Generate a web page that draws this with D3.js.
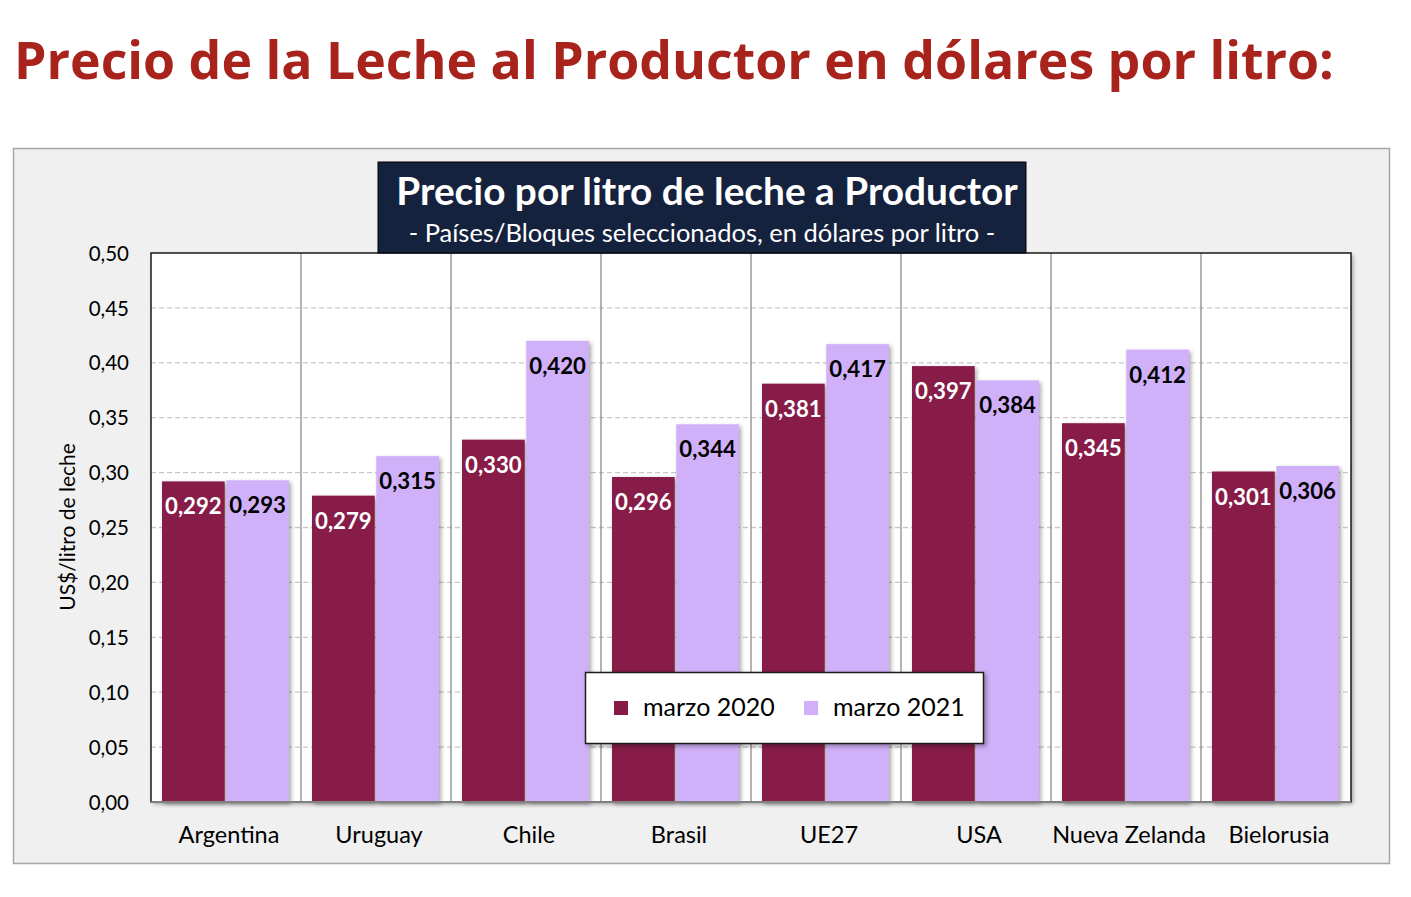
<!DOCTYPE html>
<html><head><meta charset="utf-8">
<script src="https://cdn.jsdelivr.net/npm/d3@7"></script>
<style>body{margin:0;background:#fff;}svg{display:block;}</style>
</head><body>
<script>
const categories = ["Argentina","Uruguay","Chile","Brasil","UE27","USA","Nueva Zelanda","Bielorusia"];
const series = ["marzo 2020","marzo 2021"];
const values2020 = [0.292,0.279,0.330,0.296,0.381,0.397,0.345,0.301];
const values2021 = [0.293,0.315,0.420,0.344,0.417,0.384,0.412,0.306];
const yTicks = [0,0.05,0.10,0.15,0.20,0.25,0.30,0.35,0.40,0.45,0.50];
const colors = ["#861a47","#d0b0f8"];

const W=1411,H=897;
const svg=d3.select("body").append("svg").attr("width",W).attr("height",H);
const defs=svg.append("defs");
const f=defs.append("filter").attr("id","sh").attr("x","-20%").attr("y","-20%").attr("width","150%").attr("height","150%");
f.append("feDropShadow").attr("dx",2).attr("dy",2).attr("stdDeviation",2).attr("flood-color","#000").attr("flood-opacity",0.35);

svg.append("text").attr("x",14).attr("y",79).text("Precio de la Leche al Productor en dólares por litro:")
  .attr("font-family","Open Sans").attr("font-weight",700).attr("font-size",51.8).attr("fill","#a8231c");

svg.append("rect").attr("x",13.5).attr("y",148.5).attr("width",1376).attr("height",715)
  .attr("fill","#f0f0f0").attr("stroke","#a6a6a6").attr("stroke-width",1.5);

const L=151,R=1351,T=253,B=802;
const x=d3.scaleBand().domain(categories).range([L,R]);
const y=d3.scaleLinear().domain([0,0.5]).range([B,T]);

svg.append("rect").attr("x",L).attr("y",T).attr("width",R-L).attr("height",B-T).attr("fill","#fff").attr("filter","url(#sh)");

// gridlines
svg.append("g").selectAll("line").data(yTicks.filter(d=>d>0&&d<0.5)).join("line")
  .attr("x1",L).attr("x2",R).attr("y1",d=>y(d)).attr("y2",d=>y(d))
  .attr("stroke","#c8c8c8").attr("stroke-width",1.3).attr("stroke-dasharray","5,3");
// category separators
svg.append("g").selectAll("line").data(categories.slice(1)).join("line")
  .attr("x1",d=>x(d)).attr("x2",d=>x(d)).attr("y1",T).attr("y2",B)
  .attr("stroke","#808080").attr("stroke-width",1.2);

const inner=d3.scaleBand().domain(series).range([11,138]).paddingInner(0.024);
const data=[];
categories.forEach((c,i)=>{data.push({c,s:0,v:values2020[i]});data.push({c,s:1,v:values2021[i]});});

svg.append("g").selectAll("rect").data(data).join("rect")
  .attr("x",d=>x(d.c)+inner(series[d.s])).attr("width",inner.bandwidth())
  .attr("y",d=>y(d.v)).attr("height",d=>B-y(d.v))
  .attr("fill",d=>colors[d.s]).attr("filter","url(#sh)");

const fmt=v=>v.toFixed(3).replace(".",",");
svg.append("g").selectAll("text").data(data).join("text")
  .attr("x",d=>x(d.c)+inner(series[d.s])+inner.bandwidth()/2).attr("y",d=>y(d.v)+33)
  .attr("text-anchor","middle").attr("font-family","Lato").attr("font-weight",700).attr("font-size",22.2)
  .attr("fill",d=>d.s===0?"#fff":"#000").text(d=>fmt(d.v));

// plot border
svg.append("rect").attr("x",L).attr("y",T).attr("width",R-L).attr("height",B-T).attr("fill","none")
  .attr("stroke","#1a1a1a").attr("stroke-width",1.5);
svg.append("line").attr("x1",L).attr("x2",R).attr("y1",B).attr("y2",B).attr("stroke","#808080").attr("stroke-width",2);

// y axis
const yAxis=d3.axisLeft(y).tickValues(yTicks).tickSize(0).tickPadding(22).tickFormat(d=>d.toFixed(2).replace(".",","));
const ga=svg.append("g").attr("transform",`translate(${L},0)`).call(yAxis);
ga.select(".domain").remove();
ga.selectAll("text").attr("font-family","Lato").attr("font-size",20.5).attr("fill","#000").attr("dy","0.35em");

svg.append("text").attr("transform","translate(75,527) rotate(-90)").attr("text-anchor","middle")
  .attr("font-family","Lato").attr("font-size",21).attr("fill","#000").text("US$/litro de leche");

// x axis
const xAxis=d3.axisBottom(x).tickSize(0).tickPadding(24);
const gx=svg.append("g").attr("transform",`translate(3,${B})`).call(xAxis);
gx.select(".domain").remove();
gx.selectAll("text").attr("font-family","Lato").attr("font-size",23.5).attr("fill","#000").attr("dy","0.71em");

// title box
svg.append("rect").attr("x",378).attr("y",162).attr("width",648).attr("height",91).attr("fill","#15223d").attr("stroke","#000");
svg.append("text").attr("x",707).attr("y",205).attr("text-anchor","middle").attr("font-family","Lato").attr("font-weight",700)
  .attr("font-size",38.8).attr("fill","#fff").text("Precio por litro de leche a Productor");
svg.append("text").attr("x",702).attr("y",242).attr("text-anchor","middle").attr("font-family","Lato")
  .attr("font-size",25.5).attr("fill","#fff").text("- Países/Bloques seleccionados, en dólares por litro -");

// legend
const lg=svg.append("g");
lg.append("rect").attr("x",585.5).attr("y",672.5).attr("width",398).attr("height",71).attr("fill","#fff").attr("stroke","#1a1a1a").attr("stroke-width",1.5).attr("filter","url(#sh)");
const lx=[614,804];
series.forEach((s,i)=>{
  lg.append("rect").attr("x",lx[i]).attr("y",701).attr("width",14).attr("height",14).attr("fill",colors[i]);
  lg.append("text").attr("x",lx[i]+29).attr("y",716).attr("font-family","Lato").attr("font-size",25).attr("fill","#000").text(s);
});
</script>
</body></html>
